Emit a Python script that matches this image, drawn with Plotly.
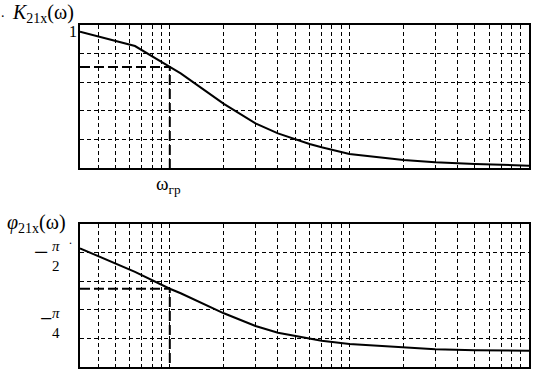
import plotly.graph_objects as go

# ---- data ----
omega = [3.162, 6.4, 10, 11.5, 20, 30, 40, 50, 60, 70, 100, 200, 300, 500, 1000]
K21x = [0.953, 0.853, 0.707, 0.662, 0.448, 0.312, 0.242, 0.200, 0.168, 0.145,
        0.098, 0.056, 0.040, 0.028, 0.016]
phi21x = [1.294, 0.997, 0.785, 0.728, 0.476, 0.316, 0.232, 0.190, 0.156, 0.131,
          0.090, 0.048, 0.023, 0.010, 0.005]

omega_gr = 10
K_gr = 0.707
phi_gr = 0.785

x_grid = [4, 5, 6, 7, 8, 9, 10, 20, 30, 40, 50, 60, 70, 80, 90,
          100, 200, 300, 400, 500, 600, 700, 800, 900]
K_grid = [0.2, 0.4, 0.6, 0.8]
phi_grid = [0.16, 0.52, 0.88, 1.24]

W, H = 535, 375


def px(x):
    return x / W


def py(y):
    return 1 - y / H


FONT = "Liberation Serif"

fig = go.Figure()

# curves
fig.add_trace(go.Scatter(x=omega, y=K21x, mode="lines",
                         line=dict(color="black", width=2),
                         xaxis="x", yaxis="y", showlegend=False))
fig.add_trace(go.Scatter(x=omega, y=phi21x, mode="lines",
                         line=dict(color="black", width=2),
                         xaxis="x2", yaxis="y2", showlegend=False))

# markers at omega_gr
fig.add_trace(go.Scatter(x=[omega[0], omega_gr, omega_gr], y=[K_gr, K_gr, 0],
                         mode="lines", line=dict(color="black", width=2, dash="10px,4px"),
                         xaxis="x", yaxis="y", showlegend=False))
fig.add_trace(go.Scatter(x=[omega[0], omega_gr, omega_gr], y=[phi_gr, phi_gr, -0.2],
                         mode="lines", line=dict(color="black", width=2, dash="10px,4px"),
                         xaxis="x2", yaxis="y2", showlegend=False))

common_x = dict(type="log", range=[0.5, 3], tickvals=x_grid, showticklabels=False,
                ticks="", showgrid=True, gridcolor="black", gridwidth=1,
                griddash="4px,3px", showline=True, mirror=True, linecolor="black",
                linewidth=1.5, zeroline=False, domain=[px(80), px(529)])
common_y = dict(showticklabels=False, ticks="", showgrid=True, gridcolor="black",
                gridwidth=1, griddash="4px,3px", showline=True, mirror=True,
                linecolor="black", linewidth=1.5, zeroline=False)

fig.update_layout(
    width=W, height=H,
    margin=dict(l=0, r=0, t=0, b=0),
    paper_bgcolor="white", plot_bgcolor="white",
    showlegend=False,
    xaxis=dict(anchor="y", **common_x),
    yaxis=dict(anchor="x", range=[0, 1], tickvals=K_grid,
               domain=[py(168), py(25)], **common_y),
    xaxis2=dict(anchor="y2", **common_x),
    yaxis2=dict(anchor="x2", range=[-0.2, 1.6], tickvals=phi_grid,
                domain=[py(367), py(224)], **common_y),
)


def ann(text, x, y, size=16, xanchor="center", yanchor="middle"):
    fig.add_annotation(text=text, x=px(x), y=py(y), xref="paper", yref="paper",
                       showarrow=False, xanchor=xanchor, yanchor=yanchor,
                       borderpad=0,
                       font=dict(family=FONT, size=size, color="black"))


# K21x(ω)
ann(".", 3, 13, size=14)
ann("<i>K</i><sub>21x</sub>(ω)", 11, 14, size=20, xanchor="left")
ann("1", 78, 31, size=16, xanchor="right")
# ω_гр
ann("ω<sub>гр</sub>", 168, 185, size=19)
# φ21x(ω)
ann("<i>φ</i><sub>21x</sub>(ω)", 6, 223, size=20, xanchor="left")
ann(".", 70, 240, size=12)
# -pi/2
ann("−", 41, 252, size=26)
ann("<i>π</i>", 56, 246, size=15)
ann("2", 56, 266, size=15)
# -pi/4
ann("−", 46, 318, size=22)
ann("<i>π</i>", 56, 313, size=15)
ann("4", 56, 333, size=15)

fig.write_html("out.html", config={"displayModeBar": False},
               post_script="document.body.style.margin='0';document.body.style.padding='0';")
